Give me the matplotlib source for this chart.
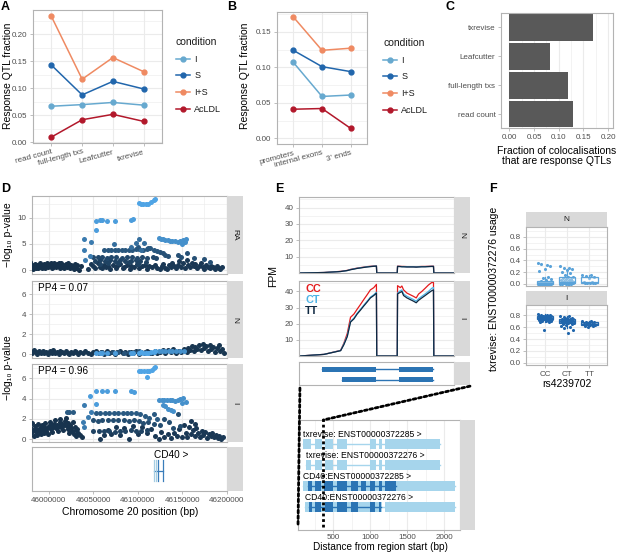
import numpy as np
import matplotlib
matplotlib.use('Agg')
import matplotlib.pyplot as plt
from matplotlib.colors import LinearSegmentedColormap
from matplotlib.patches import Rectangle, ConnectionPatch
from matplotlib.lines import Line2D
from matplotlib.ticker import MultipleLocator

plt.rcParams['font.family'] = ['Liberation Sans', 'DejaVu Sans']

# ---------------- data ----------------
# A: response QTL fraction per quantification method
qtl_methods = ['read count', 'full-length txs', 'Leafcutter', 'txrevise']
conditions = ['I', 'S', 'I+S', 'AcLDL']
cond_colors = ['#67A9CF', '#2166AC', '#EF8A62', '#B2182B']
a_I = [0.067, 0.070, 0.074, 0.069]
a_S = [0.143, 0.088, 0.113, 0.099]
a_IS = [0.233, 0.117, 0.157, 0.131]
a_AcLDL = [0.010, 0.042, 0.052, 0.039]

# B: txrevise event types
event_types = ['promoters', 'internal exons', "3' ends"]
b_I = [0.107, 0.059, 0.061]
b_S = [0.124, 0.101, 0.094]
b_IS = [0.171, 0.124, 0.127]
b_AcLDL = [0.041, 0.042, 0.014]

# C: fraction of colocalisations that are response QTLs
c_methods = ['read count', 'full-length txs', 'Leafcutter', 'txrevise']
c_fraction = [0.128, 0.119, 0.082, 0.169]

# D: association p-values, groups of (r2, [(kb from 46 Mb, -log10 p), ...])
ra_groups = [
    (0.05, [(-21, 1.5), (-20, 0.6), (-19, 1.0), (-18, 0.3), (-17, 0.9), (-16, 1.2), (-15, 0.5), (-14, 0.8),
            (-13, 1.1), (-12, 0.4), (-11, 0.7), (-10, 1.3), (-9, 0.9), (-8, 0.5), (-7, 1.1), (-6, 0.7),
            (-5, 1.2), (-4, 0.4), (-3, 0.9), (-2, 1.4), (-1, 0.6), (0, 1.0), (1, 0.8), (2, 1.3), (3, 0.5),
            (4, 1.1), (5, 0.7), (6, 1.4), (7, 0.9), (8, 0.6), (9, 1.2), (10, 0.8), (11, 1.4), (12, 0.5),
            (13, 1.0), (14, 1.3), (15, 0.7), (16, 1.1), (17, 0.4), (18, 0.9), (19, 1.2), (20, 0.6),
            (21, 1.0), (22, 1.3), (23, 0.8), (24, 0.5), (25, 1.1), (26, 0.7), (27, 0.9), (28, 0.3),
            (29, 1.2), (30, 0.8), (31, 0.5), (32, 1.0), (34, 0.0), (36, 0.9)]),
    (0.1, [(44, 0.3), (47, 1.2), (50, 0.9), (52, 0.5), (55, 1.3), (57, 0.7), (60, 0.4), (62, 1.0), (64, 0.6),
           (67, 0.9), (69, 0.3), (72, 1.1), (75, 0.5), (77, 0.8), (80, 1.2), (83, 0.4), (85, 0.7), (88, 1.0),
           (91, 0.3), (93, 0.9), (96, 0.6), (99, 1.2), (102, 0.4), (105, 0.8), (108, 1.1), (110, 0.3),
           (113, 0.9), (116, 0.6), (119, 1.1), (122, 0.5), (125, 0.2), (127, 0.8), (129, 1.2), (131, 0.5),
           (133, 0.3), (135, 1.0), (137, 0.6), (139, 1.4), (141, 0.8), (143, 0.4), (145, 1.1), (147, 1.7),
           (149, 0.7), (151, 1.3), (153, 0.5), (155, 1.9), (157, 1.0), (159, 0.6), (161, 1.4), (163, 0.8),
           (165, 1.2), (167, 0.5), (169, 0.9), (171, 1.3), (173, 0.6), (175, 0.3), (177, 1.0), (179, 0.7),
           (181, 0.4), (183, 0.9), (185, 0.6), (187, 0.3), (189, 0.8), (191, 0.5), (193, 0.2), (195, 0.6)]),
    (0.18, [(52, 1.8), (57, 1.9), (63, 1.8), (69, 1.9), (74, 1.8), (80, 1.9), (86, 1.7), (92, 1.8),
            (98, 1.9), (103, 1.8), (109, 1.6), (58, 1.2), (66, 1.4), (78, 1.3), (90, 1.5), (100, 1.2)]),
    (0.22, [(50, 2.5), (55, 2.6), (60, 2.5), (65, 2.4), (70, 2.6), (76, 2.5), (82, 2.4), (88, 2.6),
            (94, 2.5), (99, 2.4), (105, 2.5), (111, 2.3), (117, 2.5), (121, 2.4)]),
    (0.28, [(125, 3.4), (128, 3.2), (131, 2.9), (134, 2.8), (145, 2.9), (149, 2.5), (156, 3.2), (163, 2.4),
            (175, 2.2), (181, 1.5)]),
    (0.33, [(62, 3.8), (66, 3.8), (70, 3.8), (74, 3.9), (78, 3.8), (82, 3.8), (86, 3.9), (90, 3.8),
            (94, 3.8), (98, 4.0), (102, 4.0), (106, 3.9), (110, 4.0), (114, 4.2), (118, 3.8), (122, 3.7),
            (100, 4.4), (112, 4.3)]),
    (0.5, [(73, 5.0), (98, 5.1), (107, 5.1), (101, 5.9), (93, 4.4), (104, 3.9)]),
    (0.6, [(40, 6.0), (47, 5.4), (40, 3.9), (46, 2.7), (41, 2.0)]),
    (0.75, [(124, 6.1), (126, 6.0), (129, 5.9), (131, 5.8), (134, 5.7), (136, 5.6), (139, 5.5), (142, 5.5),
            (145, 5.4), (148, 5.5), (151, 5.8), (154, 6.0), (153, 5.3), (150, 5.0)]),
    (0.85, [(53, 9.4), (57, 9.5), (60, 9.5), (65, 9.4), (74, 9.3), (92, 9.6), (95, 9.7), (53, 7.7)]),
    (1.0, [(101, 12.8), (104, 12.6), (106, 12.5), (109, 12.5), (112, 12.6), (115, 12.9), (118, 13.3),
           (120, 13.6)]),
]

n_groups = [
    (0.08, [(-21, 0.3), (-19, 0.1), (-17, 0.4), (-15, 0.2), (-13, 0.0), (-11, 0.3), (-9, 0.15), (-7, 0.35),
            (-5, 0.1), (-3, 0.25), (-1, 0.05), (1, 0.3), (3, 0.15), (5, 0.4), (7, 0.1), (9, 0.25), (11, 0.05),
            (13, 0.3), (15, 0.2), (17, 0.1), (19, 0.35), (21, 0.15), (23, 0.0), (25, 0.25), (27, 0.1),
            (29, 0.3), (31, 0.2), (33, 0.05), (35, 0.25), (38, 0.1), (41, 0.3), (44, 0.15), (47, 0.05),
            (50, 0.25), (53, 0.35), (56, 0.1), (59, 0.2), (62, 0.05), (65, 0.3), (68, 0.15), (71, 0.25),
            (74, 0.05), (77, 0.2), (80, 0.3), (83, 0.1), (86, 0.2), (89, 0.05), (92, 0.25), (95, 0.15),
            (98, 0.3), (101, 0.05), (104, 0.25), (107, 0.1), (110, 0.35), (113, 0.2), (116, 0.1),
            (119, 0.3), (122, 0.15), (125, 0.2), (128, 0.45), (131, 0.1), (134, 0.4), (137, 0.2),
            (140, 0.5), (143, 0.15), (146, 0.35), (149, 0.25), (152, 0.5), (155, 0.2), (157, 0.6),
            (159, 0.4), (161, 0.8), (163, 0.3), (165, 0.7), (167, 0.5), (169, 0.9), (171, 0.4), (173, 1.0),
            (175, 0.6), (177, 0.85), (179, 0.3), (181, 0.9), (183, 0.5), (185, 0.7), (187, 0.2), (189, 0.6),
            (191, 0.95), (193, 0.3), (195, 0.5), (197, 0.15)]),
    (0.3, [(60, 0.2), (66, 0.15), (72, 0.25), (78, 0.2), (84, 0.1), (90, 0.25), (96, 0.2), (102, 0.3),
           (108, 0.2), (114, 0.15), (120, 0.25)]),
    (0.75, [(124, 0.3), (127, 0.35), (131, 0.3), (135, 0.3), (139, 0.35), (143, 0.3), (148, 0.35),
            (152, 0.3)]),
    (0.85, [(53, 0.1), (57, 0.12), (60, 0.1), (65, 0.1), (74, 0.08), (92, 0.1), (95, 0.12)]),
    (1.0, [(101, 0.15), (104, 0.2), (106, 0.15), (109, 0.1), (112, 0.15), (115, 0.2), (118, 0.25),
           (120, 0.3)]),
]

i_groups = [
    (0.06, [(-21, 1.2), (-20, 0.6), (-19, 1.6), (-18, 0.9), (-17, 0.3), (-16, 1.3), (-15, 0.7), (-14, 1.0),
            (-13, 0.4), (-12, 1.5), (-11, 0.8), (-10, 1.1), (-9, 0.5), (-8, 1.4), (-7, 0.9), (-6, 0.6),
            (-5, 1.2), (-4, 1.6), (-3, 0.8), (-2, 1.1), (-1, 0.5), (0, 1.3), (1, 1.7), (2, 1.0), (3, 1.4),
            (4, 0.7), (5, 1.2), (6, 1.5), (7, 1.9), (8, 1.1), (9, 1.4), (10, 0.8), (11, 1.3), (12, 1.7),
            (13, 2.0), (14, 1.2), (15, 1.5), (16, 0.9), (17, 1.4), (18, 1.8), (19, 2.1), (20, 1.3),
            (21, 1.0), (22, 1.6), (23, 0.6), (24, 1.4), (25, 1.1), (26, 0.8), (27, 1.7), (28, 0.5),
            (29, 1.2), (30, 0.9), (31, 0.3), (32, 1.0), (33, 0.6), (35, 0.4), (37, 0.2)]),
    (0.1, [(57, 0.0), (62, 0.4), (66, 0.9), (70, 0.5), (75, 1.2), (80, 0.4), (85, 1.1), (90, 0.0), (95, 1.3),
           (100, 0.5), (105, 1.2), (110, 0.6), (115, 1.0), (120, 0.3), (124, 0.0), (126, 0.7), (130, 0.2),
           (134, 0.5), (138, 0.1), (141, 0.6), (144, 0.3), (147, 1.0), (150, 0.2), (152, 1.4), (154, 0.6),
           (156, 0.2), (158, 1.2), (160, 0.5), (162, 0.9), (164, 0.3), (166, 1.1), (168, 0.6), (170, 0.2),
           (172, 0.8), (174, 0.4), (176, 0.7), (178, 0.1), (180, 0.5), (182, 0.3), (184, 0.6), (186, 0.2),
           (188, 0.4), (190, 0.1), (192, 0.3), (194, 0.0), (196, 0.2), (160, 1.8), (165, 1.5)]),
    (0.18, [(50, 0.8), (56, 0.8), (62, 0.8), (68, 0.8), (74, 0.7), (80, 0.8), (86, 0.8), (92, 0.9),
            (98, 0.8), (104, 0.8), (110, 0.9)]),
    (0.25, [(50, 1.9), (55, 1.8), (60, 1.9), (66, 1.9), (72, 1.9), (78, 1.9), (84, 1.9), (90, 1.8),
            (96, 1.9), (102, 1.8), (106, 1.6), (112, 1.7), (118, 1.5), (125, 1.4), (130, 2.0), (135, 1.7),
            (140, 1.1), (148, 1.3), (145, 2.5)]),
    (0.35, [(20, 2.7), (23, 2.7), (27, 2.7), (53, 2.6), (58, 2.6), (63, 2.6), (68, 2.6), (73, 2.6),
            (78, 2.6), (83, 2.6), (88, 2.6), (93, 2.6), (98, 2.6), (103, 2.5), (108, 2.3), (113, 2.1),
            (118, 2.5), (122, 2.0)]),
    (0.6, [(40, 3.4), (47, 2.7), (44, 2.2), (38, 1.7), (40, 1.2)]),
    (0.75, [(124, 3.9), (127, 3.9), (130, 3.85), (133, 3.85), (136, 3.85), (139, 3.85), (142, 3.8),
            (145, 3.9), (148, 4.0), (151, 4.1), (154, 3.7), (128, 3.4), (131, 3.3), (134, 3.0), (137, 2.9),
            (140, 2.8), (150, 3.6)]),
    (0.85, [(53, 4.75), (60, 4.75), (65, 4.75), (74, 4.75), (92, 4.7), (96, 4.6), (46, 4.3), (53, 3.5)]),
    (1.0, [(101, 6.75), (104, 6.75), (107, 6.75), (110, 6.75), (113, 6.7), (116, 6.8), (118, 7.0),
           (120, 7.1), (111, 6.1)]),
]
pp4_N = 0.07
pp4_I = 0.96
gene_label = 'CD40 >'
gene_span_kb = (118.3, 128.5)
gene_exons_kb = [118.3, 120.5, 123.2, 128.5]

# E: read coverage (positions in a zoomed-out region, FPM per genotype)
cov_pos = [0, 157, 265, 286, 308, 329, 351, 372, 394, 415, 437, 458, 480, 497, 499, 632,
           634, 652, 662, 673, 695, 716, 737, 755, 770, 791, 813, 834, 856, 867, 869, 1000]
cov_I = {
    'CC': [0, 1.0, 3.5, 8, 14, 24, 26, 29, 32, 35, 38, 41, 42.4, 44.4, 0, 0,
           43.6, 42.4, 43.4, 41, 39, 38, 37, 36, 38.4, 40, 42, 44, 45.6, 45.6, 0, 0],
    'CT': [0, 1.0, 3.4, 7.5, 12.5, 21.5, 23.5, 26.5, 29, 31.5, 34, 36.5, 38, 39.5, 0, 0,
           39, 40.5, 41, 38.5, 37, 36, 35, 34, 35.5, 37, 38.5, 40, 42, 42.5, 0, 0],
    'TT': [0, 1.0, 3.3, 7, 12, 21, 23, 26, 28.5, 31, 33.5, 36, 37.5, 39, 0, 0,
           38.5, 39.5, 40, 37.5, 36, 35, 34, 33, 34.5, 36, 37.5, 39, 40.5, 41, 0, 0],
}
cov_N = {
    'CC': [0, 0.3, 1.0, 1.3, 1.6, 2.2, 2.6, 3.0, 3.3, 3.6, 3.9, 4.1, 4.3, 4.4, 0, 0,
           4.2, 4.1, 4.0, 4.0, 3.9, 3.9, 3.9, 3.8, 3.9, 4.0, 4.0, 4.1, 4.2, 4.2, 0, 0],
    'CT': [0, 0.3, 0.9, 1.2, 1.5, 2.1, 2.5, 2.9, 3.2, 3.5, 3.8, 4.0, 4.2, 4.3, 0, 0,
           4.1, 4.0, 3.9, 3.9, 3.8, 3.8, 3.8, 3.7, 3.8, 3.9, 3.9, 4.0, 4.1, 4.1, 0, 0],
    'TT': [0, 0.3, 0.9, 1.2, 1.5, 2.0, 2.4, 2.8, 3.1, 3.4, 3.7, 3.9, 4.1, 4.2, 0, 0,
           4.0, 3.9, 3.8, 3.8, 3.7, 3.7, 3.7, 3.6, 3.7, 3.8, 3.8, 3.9, 4.0, 4.0, 0, 0],
}
genotypes = ['CC', 'CT', 'TT']
geno_colors = ['#E41A1C', '#4DB3E6', '#0E2841']
overview_tx = [[(146, 497), (641, 862)], [(271, 497), (641, 862)]]

# E bottom: transcript structures (bp from region start)
tx_labels = ['txrevise: ENST00000372285 >', 'txrevise: ENST00000372276 >',
             'CD40:ENST00000372285 >', 'CD40:ENST00000372276 >']
tx_exons = [
    [(89, 196), (254, 344), (388, 500), (554, 679), (991, 1071), (1116, 1152), (1205, 1951)],
    [(134, 196), (254, 344), (388, 500), (554, 679), (991, 1071), (1116, 1152), (1205, 1951)],
    [(89, 2152)],
    [(120, 1152), (1205, 2152)],
]
tx_cds = [
    [],
    [],
    [(152, 210), (254, 330), (379, 500), (554, 687), (745, 835), (879, 937), (991, 1058), (1116, 1160),
     (1205, 1348)],
    [(165, 210), (254, 330), (388, 500), (554, 679), (745, 835), (991, 1058), (1116, 1147)],
]
zoom_end_bp = 362

# F: txrevise usage by genotype
f_groups = ['CC', 'CT', 'TT']
f_N = [
    [0.35, 0.33, 0.34, 0.30, 0.25, 0.22, 0.12, 0.10, 0.08, 0.06, 0.05, 0.04, 0.03, 0.03, 0.02, 0.02, 0.02,
     0.015, 0.015, 0.01, 0.01, 0.01, 0.01, 0.008, 0.008, 0.005, 0.005, 0.005, 0.004, 0.003, 0.003, 0.002,
     0.002, 0.001, 0.001, 0.0, 0.0, 0.0, 0.0, 0.0],
    [0.31, 0.28, 0.27, 0.25, 0.23, 0.20, 0.18, 0.15, 0.12, 0.11, 0.10, 0.09, 0.08, 0.07, 0.06, 0.05, 0.05,
     0.04, 0.04, 0.03, 0.03, 0.03, 0.02, 0.02, 0.02, 0.015, 0.01, 0.01, 0.01, 0.008, 0.005, 0.005, 0.003,
     0.002, 0.001, 0.0],
    [0.16, 0.15, 0.13, 0.11, 0.10, 0.04, 0.03, 0.02, 0.02, 0.015, 0.01, 0.01],
]
f_I = [
    [0.82, 0.81, 0.80, 0.80, 0.79, 0.79, 0.78, 0.78, 0.78, 0.77, 0.77, 0.77, 0.76, 0.76, 0.76, 0.76, 0.75,
     0.75, 0.75, 0.75, 0.74, 0.74, 0.74, 0.73, 0.73, 0.73, 0.72, 0.72, 0.71, 0.71, 0.70, 0.69, 0.68, 0.55],
    [0.79, 0.78, 0.77, 0.76, 0.75, 0.74, 0.74, 0.73, 0.73, 0.72, 0.72, 0.71, 0.71, 0.71, 0.70, 0.70, 0.70,
     0.69, 0.69, 0.68, 0.68, 0.67, 0.67, 0.66, 0.65, 0.64, 0.62, 0.60, 0.58, 0.55, 0.50],
    [0.71, 0.70, 0.69, 0.68, 0.67, 0.66, 0.66, 0.65, 0.64, 0.63, 0.62, 0.61, 0.60],
]

# ---------------- helpers ----------------
W, H = 617, 552
fig = plt.figure(figsize=(W / 100, H / 100), dpi=100)
GRID, BORDER, TICKTXT, STRIP = '#EBEBEB', '#B3B3B3', '#4D4D4D', '#D9D9D9'
TICK_FS, TITLE_FS, LETTER_FS = 5.8, 7.5, 9


def add_box(x0, y0, x1, y1):
    # pixel box measured from the top-left corner
    return fig.add_axes([x0 / W, 1 - y1 / H, (x1 - x0) / W, (y1 - y0) / H])


def light_theme(ax, grid=True):
    for s in ax.spines.values():
        s.set_color(BORDER)
        s.set_linewidth(0.8)
    ax.tick_params(which='both', length=2.5, width=0.6, color=BORDER, labelsize=TICK_FS,
                   labelcolor=TICKTXT, pad=1.5)
    ax.tick_params(which='minor', length=0)
    if grid:
        ax.grid(True, which='major', color=GRID, lw=0.8)
        ax.grid(True, which='minor', color=GRID, lw=0.4)
    ax.set_axisbelow(True)


def strip(x0, y0, x1, y1, label='', rot=-90):
    s = add_box(x0, y0, x1, y1)
    s.set_facecolor(STRIP)
    s.set_xticks([])
    s.set_yticks([])
    for sp in s.spines.values():
        sp.set_visible(False)
    if label:
        s.text(0.5, 0.5, label, rotation=rot, ha='center', va='center', fontsize=6,
               color='#1A1A1A', transform=s.transAxes)
    return s


def letter(x, y, t):
    fig.text(x / W, 1 - y / H, t, fontsize=LETTER_FS, fontweight='bold', ha='left', va='top')


def ftext(x, y, t, **kw):
    fig.text(x / W, 1 - y / H, t, **kw)


def cond_legend(ax, x, y):
    handles = [Line2D([], [], color=c, marker='o', ms=3.5, lw=1.1) for c in cond_colors]
    leg = ax.legend(handles, conditions, title='condition', loc='upper left',
                    bbox_to_anchor=(x / W, 1 - y / H), bbox_transform=fig.transFigure,
                    frameon=False, fontsize=6.5, title_fontsize=7.5, handlelength=1.5,
                    handletextpad=0.5, labelspacing=0.85, borderaxespad=0, borderpad=0,
                    alignment='left')
    leg.get_title().set_color('#1A1A1A')
    for t in leg.get_texts():
        t.set_color('#1A1A1A')


# ---------------- A ----------------
axA = add_box(33, 10, 162, 143)
light_theme(axA)
xa = np.arange(len(qtl_methods))
for vals, col in zip([a_I, a_S, a_IS, a_AcLDL], cond_colors):
    axA.plot(xa, vals, color=col, lw=1.1, marker='o', ms=3.5)
axA.set_xlim(-0.6, 3.6)
axA.set_ylim(-0.001, 0.245)
axA.yaxis.set_major_locator(MultipleLocator(0.05))
axA.yaxis.set_minor_locator(MultipleLocator(0.025))
axA.yaxis.set_major_formatter(plt.FormatStrFormatter('%.2f'))
axA.set_xticks(xa)
axA.set_xticklabels(qtl_methods, rotation=15, ha='right', rotation_mode='anchor')
cond_legend(axA, 176, 37)
ftext(8, 76, 'Response QTL fraction', rotation=90, ha='center', va='center', fontsize=TITLE_FS)
letter(1, 1, 'A')

# ---------------- B ----------------
axB = add_box(277, 12, 367, 144)
light_theme(axB)
xb = np.arange(len(event_types))
for vals, col in zip([b_I, b_S, b_IS, b_AcLDL], cond_colors):
    axB.plot(xb, vals, color=col, lw=1.1, marker='o', ms=3.5)
axB.set_xlim(-0.57, 2.57)
axB.set_ylim(-0.008, 0.178)
axB.yaxis.set_major_locator(MultipleLocator(0.05))
axB.yaxis.set_minor_locator(MultipleLocator(0.025))
axB.yaxis.set_major_formatter(plt.FormatStrFormatter('%.2f'))
axB.set_xticks(xb)
axB.set_xticklabels(event_types, rotation=15, ha='right', rotation_mode='anchor')
cond_legend(axB, 383, 38)
ftext(245, 76, 'Response QTL fraction', rotation=90, ha='center', va='center', fontsize=TITLE_FS)
letter(227, 1, 'B')

# ---------------- C ----------------
axC = add_box(501, 13, 613, 128)
light_theme(axC)
yc = np.arange(len(c_methods))
axC.barh(yc, c_fraction, height=0.92, color='#595959')
axC.set_xlim(-0.017, 0.21)
axC.set_ylim(-0.48, 3.5)
axC.xaxis.set_major_locator(MultipleLocator(0.05))
axC.xaxis.set_minor_locator(MultipleLocator(0.025))
axC.xaxis.set_major_formatter(plt.FormatStrFormatter('%.2f'))
axC.set_yticks(yc)
axC.set_yticklabels(c_methods)
axC.grid(False, axis='y', which='both')
ftext(557, 146, 'Fraction of colocalisations\nthat are response QTLs', ha='center', va='top',
      fontsize=TITLE_FS, linespacing=1.0)
letter(446, 1, 'C')

# ---------------- D ----------------
cmap_ld = LinearSegmentedColormap.from_list('ld', ['#132B43', '#56B1F7'])
d_xlim = (45981000, 46200500)


def manhattan(ax, groups, ylim, yticks):
    light_theme(ax)
    for r2, pts in groups:
        kb = np.array([p[0] for p in pts])
        lp = np.array([p[1] for p in pts])
        ax.scatter(46000000 + kb * 1000, lp, s=13, color=cmap_ld(min(r2, 0.9)), lw=0, zorder=3)
    ax.set_xlim(*d_xlim)
    ax.set_ylim(*ylim)
    ax.set_yticks(yticks)
    ax.set_xticks([46000000, 46050000, 46100000, 46150000, 46200000])
    ax.xaxis.set_minor_locator(MultipleLocator(25000))
    ax.yaxis.set_minor_locator(MultipleLocator(yticks[1] / 2))
    ax.tick_params(axis='x', labelbottom=False, length=0)


axRA = add_box(32, 196, 227, 274)
manhattan(axRA, ra_groups, (-0.7, 14.1), [0, 5, 10])
strip(227, 196, 243, 274, 'RA')

axN = add_box(32, 281, 227, 358)
manhattan(axN, n_groups, (-0.37, 7.3), [0, 2, 4, 6])
axN.text(0.03, 0.97, f'PP4 = {pp4_N:.2f}', transform=axN.transAxes, ha='left', va='top', fontsize=7.2)
strip(227, 281, 243, 358, 'N')

axI = add_box(32, 364, 227, 442)
manhattan(axI, i_groups, (-0.27, 7.4), [0, 2, 4, 6])
axI.text(0.03, 0.97, f'PP4 = {pp4_I:.2f}', transform=axI.transAxes, ha='left', va='top', fontsize=7.2)
strip(227, 364, 243, 442, 'I')

axG = add_box(32, 447, 227, 491)
light_theme(axG, grid=False)
axG.set_xlim(*d_xlim)
axG.set_ylim(0, 1)
axG.set_yticks([])
gs, ge = [46000000 + k * 1000 for k in gene_span_kb]
axG.plot([gs, ge], [0.45, 0.45], color='#3A7DBA', lw=0.9)
for k, col in zip(gene_exons_kb, ['#A6CEE3', '#A6CEE3', '#3A7DBA', '#3A7DBA']):
    pos = 46000000 + k * 1000
    axG.plot([pos, pos], [0.23, 0.70], color=col, lw=0.9)
axG.text(gs, 0.82, gene_label, ha='left', va='center', fontsize=7.2)
axG.set_xticks([46000000, 46050000, 46100000, 46150000, 46200000])
axG.ticklabel_format(axis='x', style='plain', useOffset=False)
strip(227, 447, 243, 491, '')
ftext(130, 512, 'Chromosome 20 position (bp)', ha='center', va='center', fontsize=TITLE_FS)
ftext(8, 235, '\u2212log\u2081\u2080 p-value', rotation=90, ha='center', va='center', fontsize=TITLE_FS)
ftext(8, 368, '\u2212log\u2081\u2080 p-value', rotation=90, ha='center', va='center', fontsize=TITLE_FS)
letter(1, 183, 'D')

# ---------------- E ----------------
def coverage(ax, cov):
    light_theme(ax)
    for g, col in zip(genotypes, geno_colors):
        ax.plot(cov_pos, cov[g], color=col, lw=0.9)
    ax.set_xlim(-5, 1000)
    ax.set_ylim(0, 46.5)
    ax.set_yticks([10, 20, 30, 40])
    ax.yaxis.set_minor_locator(MultipleLocator(5))
    ax.set_xticks([])
    ax.grid(False, axis='x', which='both')


axEN = add_box(299, 197, 454, 273)
coverage(axEN, cov_N)
strip(454, 197, 470, 273, 'N')
axEI = add_box(299, 281, 454, 356)
coverage(axEI, cov_I)
strip(454, 281, 470, 356, 'I')
for i, (g, col) in enumerate(zip(genotypes, geno_colors)):
    axEI.text(0.04, 0.9 - i * 0.148, g, transform=axEI.transAxes, color=col, fontsize=7.8,
              fontweight='bold', ha='left', va='center')
ftext(273, 276, 'FPM', rotation=90, ha='center', va='center', fontsize=TITLE_FS)

axET = add_box(299, 362, 454, 385)
light_theme(axET, grid=False)
axET.set_xlim(-5, 1000)
axET.set_ylim(0.48, 2.67)
axET.set_xticks([])
axET.set_yticks([])
for row, exons in zip([2, 1], overview_tx):
    axET.plot([exons[0][0], exons[-1][1]], [row, row], color='#2B74B4', lw=1.0)
    for s, e in exons:
        axET.add_patch(Rectangle((s, row - 0.24), e - s, 0.48, color='#2B74B4', lw=0))
stripT = strip(454, 362, 470, 385, '')

axEB = add_box(298, 420, 460, 530)
light_theme(axEB)
axEB.grid(False, axis='y', which='both')
axEB.set_xlim(20, 2216)
axEB.set_ylim(-0.1, 5.14)
axEB.set_yticks([])
axEB.set_xticks([500, 1000, 1500, 2000])
axEB.xaxis.set_minor_locator(MultipleLocator(250))
axEB.tick_params(axis='x', pad=1.0, length=2.0)
rows = [4, 3, 2, 1]
for row, lab, exons, cds in zip(rows, tx_labels, tx_exons, tx_cds):
    axEB.plot([exons[0][0], exons[-1][1]], [row, row], color='#A6D5EC', lw=1.0, zorder=2)
    for s, e in exons:
        axEB.add_patch(Rectangle((s, row - 0.22), e - s, 0.44, color='#A6D5EC', lw=0, zorder=3))
    if cds:
        axEB.plot([cds[0][0], cds[-1][1]], [row, row], color='#2B74B4', lw=1.0, zorder=3)
    for s, e in cds:
        axEB.add_patch(Rectangle((s, row - 0.22), e - s, 0.44, color='#2B74B4', lw=0, zorder=4))
    axEB.text(exons[0][0], row + 0.45, lab, ha='left', va='center', fontsize=6.2, zorder=6)
strip(460, 420, 475, 530, '')
ftext(380, 547.5, 'Distance from region start (bp)', ha='center', va='center', fontsize=7.2)

dot = dict(color='black', lw=2.0, linestyle=(0, (1, 1)))
fig.add_artist(ConnectionPatch(xyA=(0.006, -0.13), coordsA=axET.transAxes,
                               xyB=(0.0, 0.03), coordsB=axEB.transAxes, **dot))
fig.add_artist(ConnectionPatch(xyA=(1.0, -0.05), coordsA=stripT.transAxes,
                               xyB=(zoom_end_bp, 5.14), coordsB=axEB.transData, **dot))
axEB.axvline(zoom_end_bp, ymin=0.03, ymax=1.0, zorder=7, **dot)
letter(275, 183, 'E')

# ---------------- F ----------------
def usage_panel(ax, data, col, face):
    light_theme(ax)
    for j, vals in enumerate(data):
        n = len(vals)
        jit = (((np.arange(n) * 0.6180339887) % 1.0) - 0.5) * 0.62
        ax.scatter(j + 1 + jit, vals, s=5, color=col, lw=0, zorder=3)
    bp = ax.boxplot(data, positions=[1, 2, 3], widths=0.75, patch_artist=True, showfliers=False,
                    whis=1.5, manage_ticks=False, zorder=4)
    for b in bp['boxes']:
        b.set_facecolor(face)
        b.set_edgecolor(col)
        b.set_linewidth(0.9)
    for k in ['medians', 'whiskers', 'caps']:
        for ln in bp[k]:
            ln.set_color(col)
            ln.set_linewidth(0.9)
    for c in bp['caps']:
        c.set_visible(False)
    ax.set_xlim(0.14, 3.8)
    ax.set_ylim(-0.035, 0.97)
    ax.set_yticks([0, 0.2, 0.4, 0.6, 0.8])
    ax.yaxis.set_minor_locator(MultipleLocator(0.1))
    ax.yaxis.set_major_formatter(plt.FormatStrFormatter('%.1f'))
    ax.set_xticks([1, 2, 3])


strip(526, 212, 607, 227, 'N', rot=0)
axFN = add_box(526, 227, 607, 286)
usage_panel(axFN, f_N, '#5BA3D9', (1, 1, 1, 0.3))
axFN.tick_params(axis='x', labelbottom=False)
strip(526, 291, 607, 305, 'I', rot=0)
axFI = add_box(526, 305, 607, 365)
usage_panel(axFI, f_I, '#2166AC', (0.13, 0.40, 0.67, 0.45))
axFI.set_xticklabels(f_groups, fontsize=TICK_FS)
ftext(567, 384, 'rs4239702', ha='center', va='center', fontsize=TITLE_FS)
ftext(494, 289, 'txrevise: ENST00000372276 usage', rotation=90, ha='center', va='center',
      fontsize=TITLE_FS)
letter(489, 183, 'F')

fig.savefig('out.png', dpi=100)
